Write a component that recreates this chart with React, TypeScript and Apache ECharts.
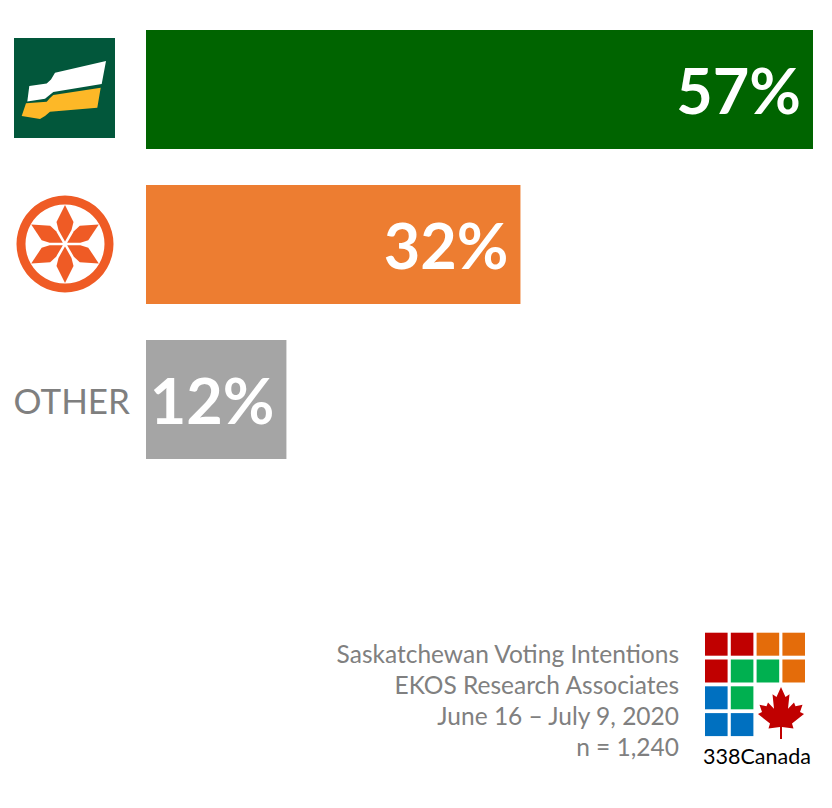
import React, { useEffect, useRef } from "react";
import * as echarts from "echarts";

const parties = ["Saskatchewan Party", "NDP", "OTHER"];
const shares = [57, 32, 12];
const partyColors = ["#006400", "#ED7D31", "#A5A5A5"];
const noteLines = [
  "Saskatchewan Voting Intentions",
  "EKOS Research Associates",
  "June 16 \u2013 July 9, 2020",
  "n = 1,240",
];
const gridColors = [
  ["#C00000", "#C00000", "#E46C0A", "#E46C0A"],
  ["#C00000", "#00B050", "#00B050", "#E46C0A"],
  ["#0070C0", "#00B050", null, null],
  ["#0070C0", "#0070C0", null, null],
];

const leafPts = [
  [50, 0], [41, 19], [33, 14], [36, 42], [24, 30], [21, 37], [7, 34], [12, 48],
  [4, 52], [28, 70], [25, 80], [48, 77], [48, 100], [52, 100], [52, 77], [75, 80],
  [72, 70], [96, 52], [88, 48], [93, 34], [79, 37], [76, 30], [64, 42], [67, 14],
  [59, 19],
];

function ndpPetals(cx: number, cy: number) {
  const out: any[] = [];
  for (let i = 0; i < 6; i++) {
    const a = (Math.PI / 180) * (90 + i * 60);
    const dx = Math.cos(a), dy = -Math.sin(a);
    const px = -dy, py = dx;
    const p = (r: number, w: number) => [cx + dx * r + px * w, cy + dy * r + py * w];
    out.push({
      type: "polygon",
      shape: { points: [p(2.5, 0), p(14, 6.5), p(22, 8.5), p(39, 0), p(22, -8.5), p(14, -6.5)] },
      style: { fill: "#EF5B25" },
    });
  }
  return out;
}

export default function App() {
  const ref = useRef<HTMLDivElement>(null);
  useEffect(() => {
    document.body.style.margin = "0";
    const chart = echarts.init(ref.current!, null, { renderer: "svg" });
    const squares: any[] = [];
    gridColors.forEach((row, r) =>
      row.forEach((c, col) => {
        if (c)
          squares.push({
            type: "rect",
            shape: { x: 705 + col * 25.8, y: 632.7 + r * 26.8, width: 22.6, height: 23 },
            style: { fill: c },
          });
      })
    );
    chart.setOption({
      animation: false,
      grid: { left: 146, right: 19, top: 12, height: 465 },
      xAxis: { type: "value", min: 0, max: 57, show: false },
      yAxis: {
        type: "category",
        data: parties,
        inverse: true,
        axisLine: { show: false },
        axisTick: { show: false },
        axisLabel: {
          margin: 16,
          fontFamily: "Lato",
          fontSize: 35,
          color: "#7F7F7F",
          formatter: (v: string) => (v === "OTHER" ? v : ""),
        },
      },
      series: [
        {
          type: "bar",
          barWidth: 119,
          data: shares.map((v, i) => ({ value: v, itemStyle: { color: partyColors[i] } })),
          label: {
            show: true,
            position: "insideRight",
            distance: 12,
            formatter: "{c}%",
            color: "#FFFFFF",
            fontFamily: "Lato",
            fontWeight: "bold",
            fontSize: 63,
          },
        },
      ],
      graphic: [
        { type: "rect", shape: { x: 14, y: 38, width: 101, height: 100 }, style: { fill: "#02573B" } },
        {
          type: "polygon",
          shape: {
            points: [[29.3, 86], [46.7, 83.5], [51, 79.5], [55, 72.8], [106, 61], [101.7, 84], [53.3, 92], [49, 95.5], [45, 98.8], [27.3, 101.5]],
          },
          style: { fill: "#FFFFFF" },
        },
        {
          type: "polygon",
          shape: {
            points: [[26, 103.3], [46.7, 101.7], [50, 98], [53.3, 95], [100.7, 87.7], [97.3, 107.7], [50, 111.7], [45, 116], [40, 119], [21.7, 116]],
          },
          style: { fill: "#FDB827" },
        },
        { type: "ring", shape: { cx: 65, cy: 244, r: 48.5, r0: 39.5 }, style: { fill: "#EF5B25" } },
        ...ndpPetals(65, 244),
        ...noteLines.map((t, i) => ({
          type: "text",
          x: 679,
          y: 653 + i * 31,
          style: {
            text: t,
            align: "right",
            verticalAlign: "middle",
            fontFamily: "Lato",
            fontSize: 24.5,
            fill: "#808080",
          },
        })),
        ...squares,
        {
          type: "polygon",
          x: 756,
          y: 687,
          scaleX: 0.5,
          scaleY: 0.52,
          shape: { points: leafPts },
          style: { fill: "#C00000" },
        },
        {
          type: "text",
          x: 757,
          y: 756,
          style: {
            text: "338Canada",
            align: "center",
            verticalAlign: "middle",
            fontFamily: "Lato",
            fontSize: 21.5,
            fill: "#000000",
          },
        },
      ],
    });
    return () => chart.dispose();
  }, []);
  return <div ref={ref} style={{ width: 832, height: 808 }} />;
}
